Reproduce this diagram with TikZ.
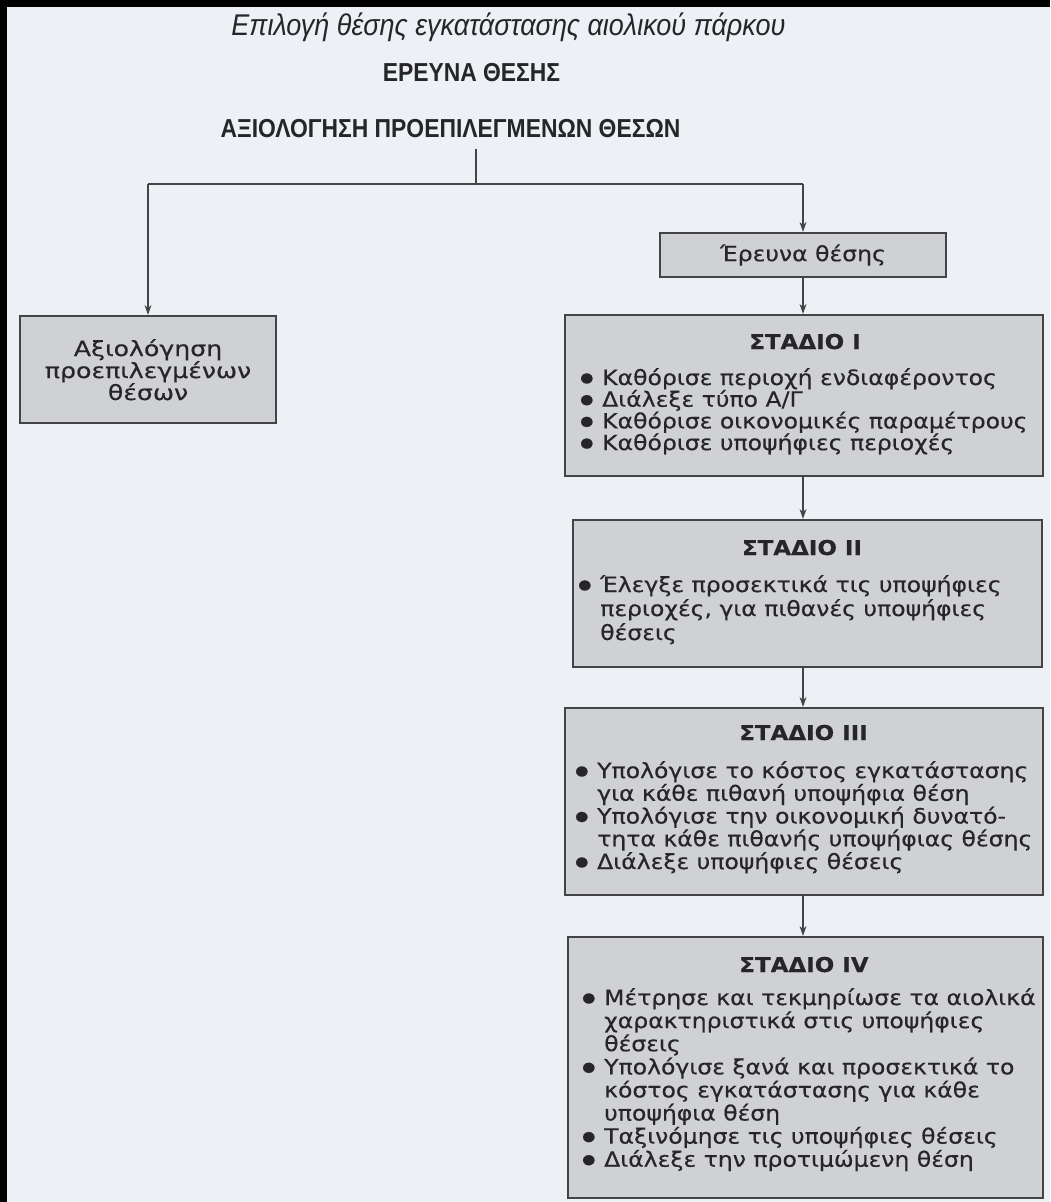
\documentclass[tikz,border=0pt]{standalone}
\usepackage{fontspec}
\setmainfont{Liberation Sans}
\newfontfamily\boxfont[FakeStretch=1.12,FakeBold=0.4]{DejaVu Sans}
\newfontfamily\leftfont[FakeStretch=1.2,FakeBold=0.4]{DejaVu Sans}
\newfontfamily\hdrfont[FakeStretch=0.88]{Liberation Sans}
\newfontfamily\titlefont[FakeStretch=0.9]{Liberation Sans}
\usetikzlibrary{arrows.meta}
\definecolor{paper}{HTML}{EDF0F5}
\definecolor{boxfill}{HTML}{D0D1D4}
\definecolor{ink}{HTML}{262628}
\definecolor{edge}{HTML}{444446}
\newcommand\bul{\makebox[22pt][l]{\raisebox{3pt}{\fontsize{13.5}{13.5}\selectfont ●}}}
\newcommand\bi[1]{\smash{\bul #1}}
\newcommand\ci[1]{\smash{\hspace*{22pt}#1}}
\newcommand\li[1]{\smash{#1}}
\tikzset{
  box/.style={draw=edge, line width=2.2pt, fill=boxfill, inner sep=0pt},
  conn/.style={draw=edge, line width=1.3pt},
  arr/.style={conn, -{Stealth[length=10pt,width=7pt]}},
  hdr/.style={inner sep=0pt, text=ink, font=\hdrfont},
  btxt/.style={inner sep=0pt, text=ink, font=\boxfont\fontsize{21}{22.7}\selectfont},
  shead/.style={btxt, font=\boxfont\bfseries\fontsize{20.5}{22}\selectfont, anchor=base},
}
\begin{document}
\begin{tikzpicture}[x=1pt,y=-1pt]
\useasboundingbox (0,0) rectangle (1050,1202);
\fill[paper] (0,0) rectangle (1050,1202);
\fill[black] (0,0) rectangle (1050,7);
\fill[black] (0,0) rectangle (7,1202);

% headers
\node[hdr, anchor=base, font=\titlefont\itshape\fontsize{30}{32}\selectfont] (title) at (508.5,35)
  {Επιλογή θέσης εγκατάστασης αιολικού πάρκου};
\node[hdr, anchor=base, font=\hdrfont\bfseries\fontsize{26}{28}\selectfont] (h1) at (471.5,81)
  {ΕΡΕΥΝΑ ΘΕΣΗΣ};
\node[hdr, anchor=base, font=\hdrfont\bfseries\fontsize{26}{28}\selectfont] (h2) at (450.5,137)
  {ΑΞΙΟΛΟΓΗΣΗ ΠΡΟΕΠΙΛΕΓΜΕΝΩΝ ΘΕΣΩΝ};

% boxes
\node[box, minimum width=256pt, minimum height=107pt] (left) at (148,369.5) {};
\node[box, minimum width=286pt, minimum height=44pt] (erev) at (803,255) {};
\node[box, minimum width=478pt, minimum height=161pt] (s1) at (804,395.5) {};
\node[box, minimum width=469pt, minimum height=147pt] (s2) at (807.5,593.5) {};
\node[box, minimum width=478pt, minimum height=187pt] (s3) at (804,801.5) {};
\node[box, minimum width=475pt, minimum height=261pt] (s4) at (805.5,1067.5) {};

% box texts
\node[btxt, anchor=base, font=\leftfont\fontsize{21}{22}\selectfont] (lefttxt) at (148,356)
  {\begin{tabular}[t]{@{}c@{}}
   \li{Αξιολόγηση}\\
   \li{προεπιλεγμένων}\\
   \li{θέσων}
   \end{tabular}};
\node[btxt] (erevtxt) at (803,255) {Έρευνα θέσης};

\node[shead] (s1h) at (805,349) {ΣΤΑΔΙΟ I};
\node[btxt, anchor=base west, font=\boxfont\fontsize{21}{21.7}\selectfont] (s1t) at (580,385)
  {\begin{tabular}[t]{@{}l@{}}
   \bi{Καθόρισε περιοχή ενδιαφέροντος}\\
   \bi{Διάλεξε τύπο Α/Γ}\\
   \bi{Καθόρισε οικονομικές παραμέτρους}\\
   \bi{Καθόρισε υποψήφιες περιοχές}
   \end{tabular}};

\node[shead] (s2h) at (802,555) {ΣΤΑΔΙΟ II};
\node[btxt, anchor=base west, font=\boxfont\fontsize{21}{24}\selectfont] (s2t) at (578,592)
  {\begin{tabular}[t]{@{}l@{}}
   \bi{Έλεγξε προσεκτικά τις υποψήφιες}\\
   \ci{περιοχές, για πιθανές υποψήφιες}\\
   \ci{θέσεις}
   \end{tabular}};

\node[shead] (s3h) at (803.5,740) {ΣΤΑΔΙΟ III};
\node[btxt, anchor=base west, font=\boxfont\fontsize{21}{22.75}\selectfont] (s3t) at (575,778)
  {\begin{tabular}[t]{@{}l@{}}
   \bi{Υπολόγισε το κόστος εγκατάστασης}\\
   \ci{για κάθε πιθανή υποψήφια θέση}\\
   \bi{Υπολόγισε την οικονομική δυνατό-}\\
   \ci{τητα κάθε πιθανής υποψήφιας θέσης}\\
   \bi{Διάλεξε υποψήφιες θέσεις}
   \end{tabular}};

\node[shead] (s4h) at (804,972) {ΣΤΑΔΙΟ IV};
\node[btxt, anchor=base west, font=\boxfont\fontsize{21}{23.1}\selectfont] (s4t) at (582,1005)
  {\begin{tabular}[t]{@{}l@{}}
   \bi{Μέτρησε και τεκμηρίωσε τα αιολικά}\\
   \ci{χαρακτηριστικά στις υποψήφιες}\\
   \ci{θέσεις}\\
   \bi{Υπολόγισε ξανά και προσεκτικά το}\\
   \ci{κόστος εγκατάστασης για κάθε}\\
   \ci{υποψήφια θέση}\\
   \bi{Ταξινόμησε τις υποψήφιες θέσεις}\\
   \bi{Διάλεξε την προτιμώμενη θέση}
   \end{tabular}};

% connectors
\coordinate (jt) at (476,149);
\coordinate (jm) at (476,184);
\coordinate (jl) at (148,184);
\coordinate (jr) at (803,184);
\draw[conn] (jt) -- (jm);
\draw[conn] (jl) -- (jr);
\draw[arr] (jl) -- (left.north);
\draw[arr] (jr) -- (erev.north);
\draw[arr] (erev.south) -- (erev.south |- s1.north);
\draw[arr] (erev.south |- s1.south) -- (erev.south |- s2.north);
\draw[arr] (erev.south |- s2.south) -- (erev.south |- s3.north);
\draw[arr] (erev.south |- s3.south) -- (erev.south |- s4.north);
\end{tikzpicture}
\end{document}
